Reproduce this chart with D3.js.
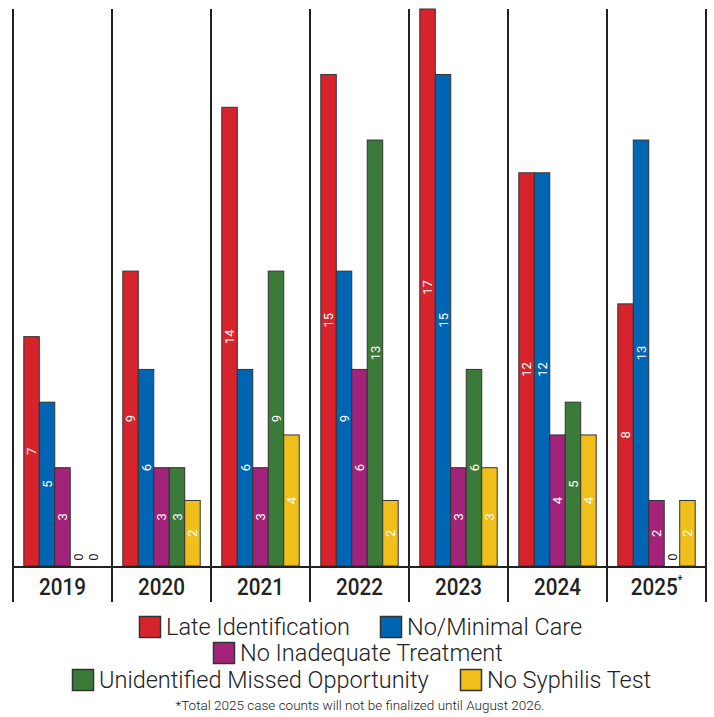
<!DOCTYPE html>
<html><head><meta charset="utf-8">
<script src="https://cdn.jsdelivr.net/npm/d3@7"></script>
<style>body{margin:0;background:#fff}svg{display:block}</style>
</head><body><svg id="c" width="714" height="717"></svg>
<script>
const years = ["2019","2020","2021","2022","2023","2024","2025"];
const series = ["Late Identification","No/Minimal Care","No Inadequate Treatment","Unidentified Missed Opportunity","No Syphilis Test"];
const colors = ["#d7242c","#0066b3","#a3237b","#3b7a39","#f1bf1c"];
const lateIdentification = [7,9,14,15,17,12,8];
const noMinimalCare = [5,6,6,9,15,12,13];
const noInadequateTreatment = [3,3,3,6,3,4,2];
const unidentifiedMissed = [0,3,9,13,6,5,0];
const noSyphilisTest = [0,2,4,2,3,4,2];
const values = [lateIdentification,noMinimalCare,noInadequateTreatment,unidentifiedMissed,noSyphilisTest];

const svg = d3.select("#c");
const x = d3.scaleBand().domain(years).range([13,706]);
const bw = x.bandwidth();
const xs = d3.scaleBand().domain(series).range([10.8, bw-10.8]);
const y = d3.scaleLinear().domain([0,17]).range([566,9]);
const font = "Roboto, 'Open Sans', sans-serif";

// separators
svg.append("g").selectAll("line").data(d3.range(years.length+1)).join("line")
  .attr("x1", i=> i<years.length ? x(years[i]) : x(years[years.length-1])+bw)
  .attr("x2", i=> i<years.length ? x(years[i]) : x(years[years.length-1])+bw)
  .attr("y1", 9).attr("y2", 602).attr("stroke","#222").attr("stroke-width",2);

const data = [];
years.forEach((yr,i)=>series.forEach((s,j)=>data.push({yr,s,j,v:values[j][i]})));

const g = svg.append("g");
g.selectAll("rect").data(data.filter(d=>d.v>0)).join("rect")
  .attr("x", d=>x(d.yr)+xs(d.s)).attr("width", xs.bandwidth())
  .attr("y", d=>y(d.v)).attr("height", d=>y(0)-y(d.v))
  .attr("fill", d=>colors[d.j]).attr("stroke","#333").attr("stroke-width",1);

g.selectAll("text").data(data).join("text")
  .attr("transform", d=>{
    const cx = x(d.yr)+xs(d.s)+xs.bandwidth()/2;
    const cy = d.v>0 ? (y(d.v)+y(0))/2 : 557;
    return `translate(${cx},${cy}) rotate(-90)`;
  })
  .attr("text-anchor","middle").attr("dy","0.36em")
  .attr("font-family",font).attr("font-size",13).attr("font-weight",400)
  .attr("fill", d=>d.v>0 ? "#fff" : "#222")
  .text(d=>d.v);

// baseline
svg.append("line").attr("x1",13).attr("x2",706).attr("y1",567).attr("y2",567)
  .attr("stroke","#222").attr("stroke-width",2);

// year labels
const yl = svg.append("g").selectAll("text").data(years).join("text")
  .attr("transform", d=>`translate(${x(d)+bw/2},595) scale(0.86,1)`)
  .attr("text-anchor","middle").attr("font-family",font).attr("font-size",24).attr("font-weight",500)
  .attr("fill","#222");
yl.text(d=>d);
yl.filter(d=>d==="2025").append("tspan").attr("font-size",12).attr("dy",-11).text("*");

// legend
const rows = [
  [{i:0,x:139},{i:1,x:380}],
  [{i:2,x:213}],
  [{i:3,x:72},{i:4,x:460}]
];
const rowY = [627,653,680];
rows.forEach((r,ri)=>r.forEach(it=>{
  const lg = svg.append("g").attr("transform",`translate(${it.x},${rowY[ri]})`);
  lg.append("rect").attr("x",0.5).attr("y",-10.5).attr("width",21).attr("height",21)
    .attr("fill",colors[it.i]).attr("stroke","#333").attr("stroke-width",1.5);
  lg.append("text").attr("x",27).attr("y",0).attr("dy","0.36em")
    .attr("font-family",font).attr("font-size",23.5).attr("font-weight",300).attr("fill","#222")
    .text(series[it.i]);
}));

svg.append("text").attr("x",360).attr("y",710).attr("text-anchor","middle")
  .attr("font-family",font).attr("font-size",13.5).attr("font-weight",300).attr("fill","#222")
  .text("*Total 2025 case counts will not be finalized until August 2026.");
</script></body></html>
